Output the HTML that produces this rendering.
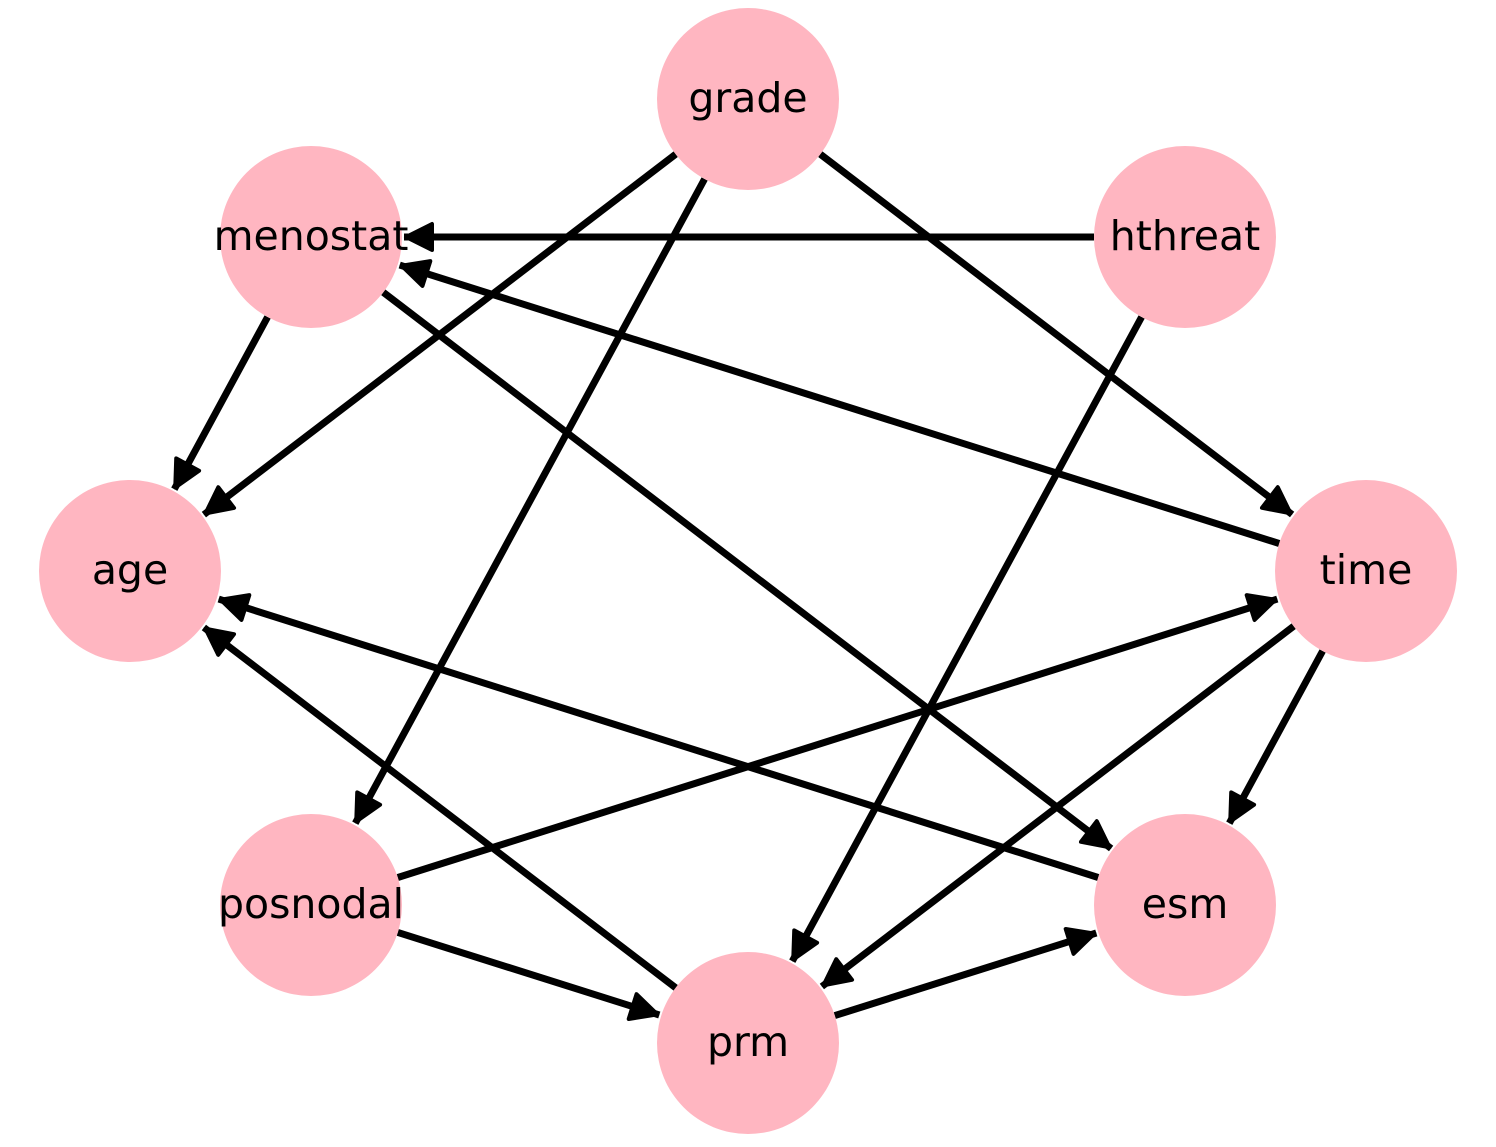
<!DOCTYPE html>
<html><head><meta charset="utf-8"><style>html,body{margin:0;padding:0;background:#fff}</style></head>
<body>
<svg width="1496" height="1142" viewBox="0 0 1496 1142" xmlns="http://www.w3.org/2000/svg">
<defs>
<marker id="a" markerUnits="userSpaceOnUse" markerWidth="40" markerHeight="40" refX="32" refY="16" orient="auto">
<path d="M4,3 L30,16 L4,29 Z" fill="#000" stroke="#000" stroke-width="4" stroke-linejoin="round"/>
</marker>
</defs>
<g stroke="#000" stroke-width="7" fill="none" marker-end="url(#a)">
<line x1="675.7" y1="154.2" x2="203.9" y2="514.6"/>
<line x1="704.6" y1="179" x2="355.3" y2="823.2"/>
<line x1="820.3" y1="154.2" x2="1292.1" y2="514.5"/>
<line x1="1094" y1="237" x2="404" y2="237"/>
<line x1="1141.6" y1="317" x2="792.3" y2="961.2"/>
<line x1="267.6" y1="317" x2="174.3" y2="489.2"/>
<line x1="383.3" y1="292.3" x2="1111.1" y2="848.5"/>
<line x1="1279.2" y1="543.5" x2="399.7" y2="265.1"/>
<line x1="1322.6" y1="651" x2="1229.3" y2="823.2"/>
<line x1="1293.7" y1="626.2" x2="821.9" y2="986.5"/>
<line x1="397.8" y1="877.5" x2="1277.3" y2="599.1"/>
<line x1="397.8" y1="932.4" x2="659.3" y2="1015"/>
<line x1="1098.2" y1="877.5" x2="218.7" y2="599.1"/>
<line x1="675.7" y1="987.8" x2="203.9" y2="627.5"/>
<line x1="834.8" y1="1015.6" x2="1096.3" y2="933"/>
</g>
<g fill="#ffb6c1">
<circle cx="748" cy="99" r="91"/>
<circle cx="311" cy="237" r="91"/>
<circle cx="1185" cy="237" r="91"/>
<circle cx="130" cy="571" r="91"/>
<circle cx="1366" cy="571" r="91"/>
<circle cx="311" cy="905" r="91"/>
<circle cx="1185" cy="905" r="91"/>
<circle cx="748" cy="1043" r="91"/>
</g>
<g font-family="DejaVu Sans, Liberation Sans, sans-serif" font-size="41" text-anchor="middle" fill="#000">
<text x="748" y="112">grade</text>
<text x="311" y="250">menostat</text>
<text x="1185" y="250">hthreat</text>
<text x="130" y="584">age</text>
<text x="1366" y="584">time</text>
<text x="311" y="918">posnodal</text>
<text x="1185" y="918">esm</text>
<text x="748" y="1056">prm</text>
</g>
</svg>
</body></html>
